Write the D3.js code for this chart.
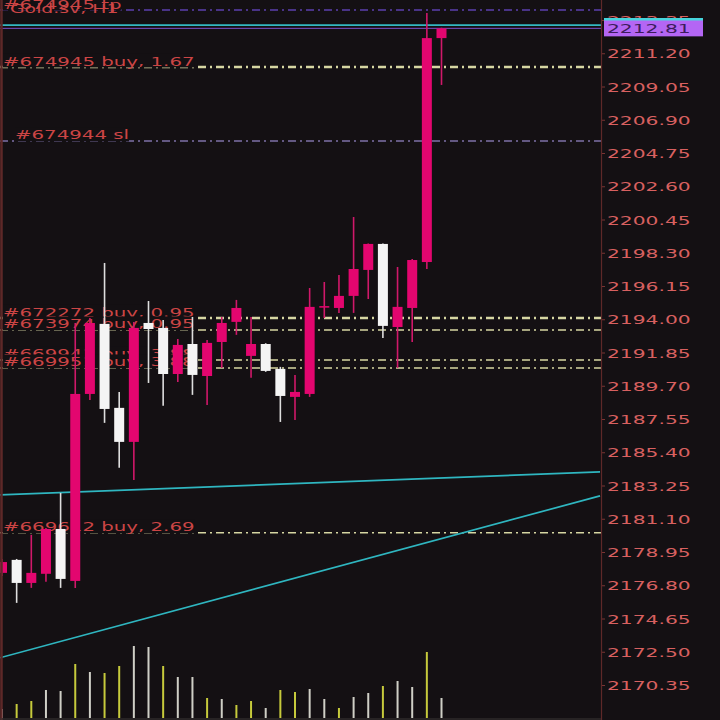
<!DOCTYPE html>
<html><head><meta charset="utf-8">
<script src="https://cdn.jsdelivr.net/npm/d3@7"></script>
<style>html,body{margin:0;padding:0;background:#141013;overflow:hidden}</style>
</head><body><svg id="c" width="720" height="720"></svg>
<script>
// ---------- data ----------
const barIndex = [0,1,2,3,4,5,6,7,8,9,10,11,12,13,14,15,16,17,18,19,20,21,22,23,24,25,26,27,28,29,30];
const open  = [2177.60,2178.44,2176.95,2177.54,2180.44,2177.08,2189.17,2193.70,2188.27,2186.07,2193.76,2193.44,2190.46,2192.40,2190.33,2192.53,2193.83,2191.63,2192.40,2190.79,2188.98,2189.17,2194.75,2194.73,2195.51,2197.19,2198.87,2193.50,2194.73,2197.70,2212.18];
const high  = [2178.50,2178.50,2180.06,2180.50,2182.77,2193.76,2194.08,2197.64,2189.30,2193.83,2195.18,2193.95,2192.73,2194.15,2192.66,2194.15,2195.25,2194.15,2192.45,2190.92,2190.40,2196.02,2196.41,2196.86,2200.61,2198.90,2198.90,2197.38,2197.90,2213.80,2212.85];
const low   = [2177.40,2175.66,2176.63,2177.02,2176.63,2176.63,2188.78,2187.30,2184.39,2183.61,2189.88,2188.40,2189.95,2189.11,2188.46,2190.85,2192.99,2190.21,2190.60,2187.36,2187.49,2188.98,2194.08,2194.41,2194.41,2195.31,2192.79,2190.85,2192.53,2197.25,2209.15];
const close = [2178.30,2176.95,2177.60,2180.44,2177.21,2189.17,2193.76,2188.20,2186.07,2193.44,2193.37,2190.46,2192.34,2190.40,2192.47,2193.76,2194.73,2192.40,2190.66,2189.04,2189.30,2194.80,2194.85,2195.51,2197.25,2198.87,2193.57,2194.80,2197.83,2212.18,2212.81];
const volume = [90,140,170,280,270,540,460,450,520,720,710,520,410,410,200,190,130,170,100,280,260,290,190,100,210,250,320,370,310,660,200];
const volUp  = [0,1,1,0,0,1,0,1,1,0,0,1,0,0,1,0,1,1,0,1,1,0,0,1,0,0,1,0,0,1,0];

const tickValues = [2213.35,2211.20,2209.05,2206.90,2204.75,2202.60,2200.45,2198.30,2196.15,2194.00,2191.85,2189.70,2187.55,2185.40,2183.25,2181.10,2178.95,2176.80,2174.65,2172.50,2170.35];
const tickLabels = ["2213.35","2211.20","2209.05","2206.90","2204.75","2202.60","2200.45","2198.30","2196.15","2194.00","2191.85","2189.70","2187.55","2185.40","2183.25","2181.10","2178.95","2176.80","2174.65","2172.50","2170.35"];

const levelLabels = ["#674945 tp","#674945 buy, 1.67","#674944 sl","#672272 buy, 0.95","#673974 buy, 0.95","#669941 buy, 3.88","#669951 buy, 3.88","#669612 buy, 2.69"];
const levelPrices = [2213.99,2210.31,2205.53,2194.08,2193.31,2191.37,2190.85,2180.19];
const levelKinds  = ["tp","buy","sl","buy","buy","buy","buy","buy"];

const trendA = [[-0.14,2182.64],[40.82,2184.13]];
const trendB = [[-0.14,2172.11],[40.82,2182.58]];
const bidPrice = 2212.81;
const askPrice = 2213.02;
const titleText = "Gold.sv, H1";

// ---------- drawing ----------
const W = 720, H = 720, plotRight = 601;
const BG = "#141013";
const svg = d3.select("#c");
svg.append("rect").attr("width", W).attr("height", H).attr("fill", BG);

const xScale = d3.scaleLinear().domain([0, 30]).range([2, 441.5]);
const yScale = d3.scaleLinear().domain([2170.35, 2204.75]).range([685, 153]);
const volScale = d3.scaleLinear().domain([0, 720]).range([718, 646]);

svg.append("defs").append("clipPath").attr("id", "plot")
  .append("rect").attr("x", 0).attr("y", 0).attr("width", plotRight).attr("height", H);
const plot = svg.append("g").attr("clip-path", "url(#plot)");

// volumes
plot.selectAll("line.vol").data(barIndex).join("line").attr("class", "vol")
  .attr("x1", i => xScale(i)).attr("x2", i => xScale(i))
  .attr("y1", volScale(0)).attr("y2", i => volScale(volume[i]))
  .attr("stroke", i => volUp[i] ? "#c6ca3c" : "#cfcfc6").attr("stroke-width", 2);

// level lines
const boldLevels = new Set([1, 3]);
levelPrices.forEach((p, k) => {
  const kind = levelKinds[k];
  const col = kind === "tp" ? "#5b3fae" : kind === "sl" ? "#7e70a8" : "#d6d6a2";
  plot.append("line").attr("x1", 0).attr("x2", plotRight)
    .attr("y1", yScale(p)).attr("y2", yScale(p))
    .attr("stroke", col).attr("stroke-width", boldLevels.has(k) ? 2.6 : 1.5)
    .attr("stroke-dasharray", "8,4,2,4");
});

// ask / bid lines
plot.append("line").attr("x1", 0).attr("x2", plotRight).attr("y1", yScale(askPrice)).attr("y2", yScale(askPrice))
  .attr("stroke", "#33b8c2").attr("stroke-width", 1.6);
plot.append("line").attr("x1", 0).attr("x2", plotRight).attr("y1", yScale(bidPrice)).attr("y2", yScale(bidPrice))
  .attr("stroke", "#7a4ec8").attr("stroke-width", 1);

// trend lines
[trendA, trendB].forEach(t => {
  plot.append("line")
    .attr("x1", xScale(t[0][0])).attr("y1", yScale(t[0][1]))
    .attr("x2", xScale(t[1][0])).attr("y2", yScale(t[1][1]))
    .attr("stroke", "#2fb6c0").attr("stroke-width", 1.7);
});

// level labels (with background boxes)
levelLabels.forEach((txt, k) => {
  const lx = levelKinds[k] === "sl" ? 15 : 3;
  const g = plot.append("g").attr("transform", `translate(${lx},${yScale(levelPrices[k]) - 1.5}) scale(1.52,1)`);
  const bg = g.append("rect").attr("fill", BG);
  const t = g.append("text").text(txt)
    .attr("font-family", "DejaVu Sans").attr("font-size", 13).attr("fill", "#cc4545");
  const bb = t.node().getBBox();
  bg.attr("x", bb.x).attr("y", -12).attr("width", bb.width).attr("height", 14);
});

// candles
const PINK = "#e3066f", WHITE = "#f4f4f4";
const up = i => close[i] >= open[i];
plot.selectAll("line.wick").data(barIndex).join("line").attr("class", "wick")
  .attr("x1", i => xScale(i)).attr("x2", i => xScale(i))
  .attr("y1", i => yScale(high[i])).attr("y2", i => yScale(low[i]))
  .attr("stroke", i => up(i) ? "#d0186a" : "#dedede").attr("stroke-width", 1.6);
plot.selectAll("rect.body").data(barIndex).join("rect").attr("class", "body")
  .attr("x", i => xScale(i) - 5).attr("width", 10)
  .attr("y", i => yScale(Math.max(open[i], close[i])))
  .attr("height", i => Math.max(1.5, Math.abs(yScale(open[i]) - yScale(close[i]))))
  .attr("fill", i => up(i) ? PINK : WHITE);

// title
svg.append("text").text(titleText)
  .attr("transform", "translate(10,13) scale(1.45,1)")
  .attr("font-family", "DejaVu Sans").attr("font-size", 13).attr("fill", "#cc4545");

// left border + bottom line
svg.append("line").attr("x1", 1.5).attr("x2", 1.5).attr("y1", 0).attr("y2", H)
  .attr("stroke", "#5e2828").attr("stroke-width", 2.5);
svg.append("line").attr("x1", 0).attr("x2", plotRight).attr("y1", 719).attr("y2", 719)
  .attr("stroke", "#3a3636").attr("stroke-width", 1);

// price axis
const axisG = svg.append("g").attr("transform", `translate(${plotRight},0)`)
  .call(d3.axisRight(yScale).tickValues(tickValues).tickFormat((d, i) => tickLabels[i]).tickSize(4));
axisG.select(".domain").remove();
axisG.selectAll(".tick line").attr("stroke", "#7a3434");
axisG.selectAll(".tick text")
  .attr("x", 0).attr("dy", "0.36em")
  .attr("transform", "translate(6,0) scale(1.62,1)")
  .attr("font-family", "DejaVu Sans").attr("font-size", 12.5).attr("fill", "#d86060");
svg.append("line").attr("x1", plotRight + 0.5).attr("x2", plotRight + 0.5).attr("y1", 0).attr("y2", H)
  .attr("stroke", "#5e2828").attr("stroke-width", 1.2);

// current price box
const by = yScale(bidPrice);
svg.append("rect").attr("x", 604).attr("y", by - 9).attr("width", 99).attr("height", 17).attr("fill", "#b466f4");
svg.append("line").attr("x1", 604).attr("x2", 703).attr("y1", by - 9).attr("y2", by - 9)
  .attr("stroke", "#46d4dc").attr("stroke-width", 2.5);
svg.append("text").text(bidPrice.toFixed(2))
  .attr("transform", `translate(607,${by}) scale(1.62,1)`).attr("dy", "0.38em")
  .attr("font-family", "DejaVu Sans").attr("font-size", 12.5).attr("fill", "#3c1c5c");
</script></body></html>
